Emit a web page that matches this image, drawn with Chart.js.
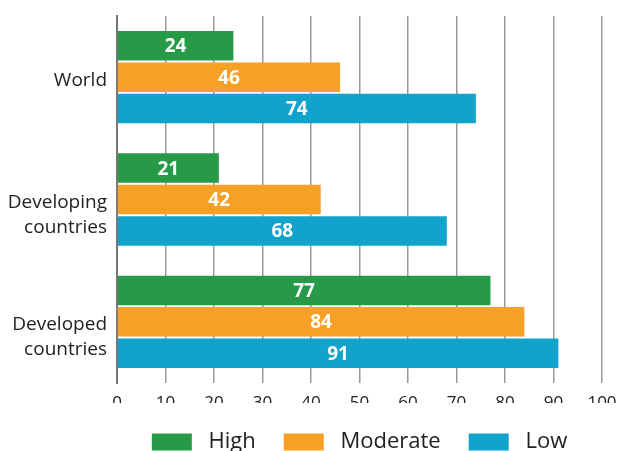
<!DOCTYPE html>
<html>
<head>
<meta charset="utf-8">
<script src="https://cdn.jsdelivr.net/npm/chart.js@4"></script>
<style>
  body { margin: 0; background: #fff; }
</style>
</head>
<body>
<canvas id="chart" width="617" height="451"></canvas>
<script>
// empty first line keeps the first word level with the middle of the group, as in the original
const regions = ['World', ['', 'Developing', 'countries'], ['', 'Developed', 'countries']]
const high = [24, 21, 77]
const moderate = [46, 42, 84]
const low = [74, 68, 91]
const xTicks = [0, 10, 20, 30, 40, 50, 60, 70, 80, 90, 100]

const colors = { high: '#279a48', moderate: '#f7a026', low: '#11a3cc' }
const font = '"Open Sans", "DejaVu Sans", sans-serif'

// numbers in the middle of each bar
const barLabels = {
    id: 'barLabels',
    afterDatasetsDraw(chart) {
        const ctx = chart.ctx
        ctx.save()
        ctx.fillStyle = '#fff'
        ctx.font = 'bold 19px ' + font
        ctx.textAlign = 'center'
        ctx.textBaseline = 'middle'
        chart.data.datasets.forEach((ds, i) => {
            chart.getDatasetMeta(i).data.forEach((bar, j) => {
                const x = (bar.x + bar.base) / 2
                ctx.fillText(ds.data[j], x, bar.y + 1)
            })
        })
        ctx.restore()
    }
}

// legend keeps wide gaps between items but a short box height
const legendHeight = {
    id: 'legendHeight',
    afterInit(chart) {
        const lg = chart.legend
        const fit = lg.fit.bind(lg)
        lg.fit = () => {
            fit()
            lg.height = 48
        }
    }
}

const data = {
    labels: regions,
    datasets: [
        { label: 'High', data: high, backgroundColor: colors.high },
        { label: 'Moderate', data: moderate, backgroundColor: colors.moderate },
        { label: 'Low', data: low, backgroundColor: colors.low }
    ]
}

const options = {
    indexAxis: 'y',
    responsive: false,
    animation: false,
    layout: { padding: { top: 16, right: 15, bottom: 0, left: 0 } },
    datasets: {
        bar: { categoryPercentage: 0.77, barPercentage: 0.94 }
    },
    plugins: {
        legend: {
            position: 'bottom',
            fullSize: false,
            labels: {
                boxWidth: 40,
                boxHeight: 17,
                padding: 28,
                color: '#222',
                font: { family: font, size: 22 },
                generateLabels: chart => Chart.defaults.plugins.legend.labels.generateLabels(chart)
                    .map(item => ({ ...item, text: ' ' + item.text }))
            }
        },
        tooltip: { enabled: false }
    },
    scales: {
        x: {
            min: 0,
            max: 100,
            afterBuildTicks: scale => { scale.ticks = xTicks.map(v => ({ value: v })) },
            afterFit: scale => {
                scale.height = 20
                scale.paddingLeft = 0
                scale.paddingRight = 0
            },
            grid: { color: '#999', lineWidth: 1.5, drawTicks: false },
            border: { display: false },
            ticks: { color: '#222', padding: 10, font: { family: font, size: 17 } }
        },
        y: {
            afterFit: scale => {
                scale.width = 117
                scale.paddingTop = 0
                scale.paddingBottom = 0
            },
            grid: { display: false, drawTicks: false },
            border: { color: '#777', width: 2 },
            ticks: { color: '#222', padding: 10, labelOffset: 3, font: { family: font, size: 19, lineHeight: 1.3 } }
        }
    }
}

new Chart('chart', { type: 'bar', data, options, plugins: [barLabels, legendHeight] })
</script>
</body>
</html>
